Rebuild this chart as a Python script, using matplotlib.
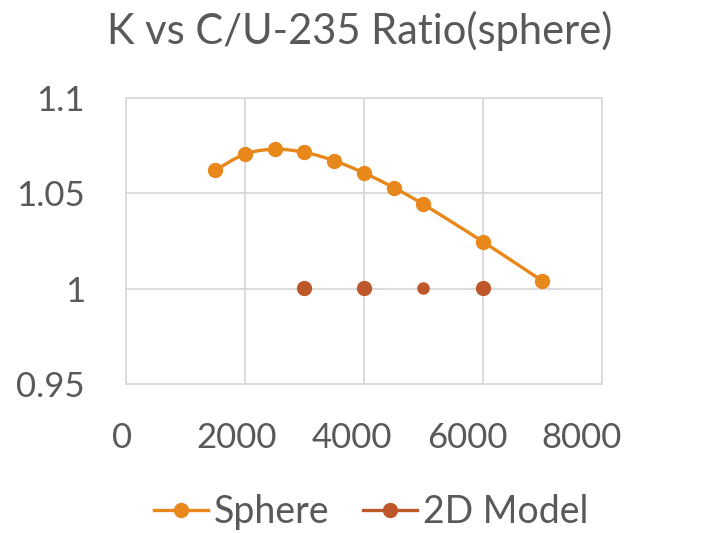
import numpy as np
import matplotlib
matplotlib.use("Agg")
import matplotlib.pyplot as plt
from matplotlib.transforms import ScaledTranslation

# ---- data ----
title = "K vs C/U-235 Ratio(sphere)"
sphere_x = [1500, 2000, 2500, 3000, 3500, 4000, 4500, 5000, 6000, 7000]
sphere_y = [1.0621, 1.0706, 1.0731, 1.0715, 1.0671, 1.0607, 1.0530, 1.0442, 1.0246, 1.0040]
model_x = [3000, 4000, 5000, 6000]
model_y = [1.0003, 1.0003, 1.0003, 1.0003]
x_ticks = [0, 2000, 4000, 6000, 8000]
y_ticks = [0.95, 1.0, 1.05, 1.1]
y_tick_labels = ["0.95", "1", "1.05", "1.1"]
series_names = ["Sphere", "2D Model"]

SPHERE_C = "#E8871A"
MODEL_C = "#BE582B"
TEXT_C = "#595959"
GRID_C = "#D9D9D9"

plt.rcParams['font.family'] = ['Lato', 'DejaVu Sans']

def smooth(xs, ys, n=30):
    P = np.column_stack([xs, ys]).astype(float)
    out = []
    for i in range(len(P) - 1):
        p0 = P[i - 1] if i > 0 else P[i]
        p1 = P[i]
        p2 = P[i + 1]
        p3 = P[i + 2] if i + 2 < len(P) else P[i + 1]
        c1 = p1 + (p2 - p0) / 6.0
        c2 = p2 - (p3 - p1) / 6.0
        t = np.linspace(0, 1, n)[:, None]
        seg = ((1 - t) ** 3) * p1 + 3 * ((1 - t) ** 2) * t * c1 + 3 * (1 - t) * t ** 2 * c2 + t ** 3 * p2
        out.append(seg if i == 0 else seg[1:])
    S = np.vstack(out)
    return S[:, 0], S[:, 1]

fig = plt.figure(figsize=(7.2, 5.33), dpi=100)
ax = fig.add_axes([126 / 720, 1 - 384 / 533, (602 - 126) / 720, (384 - 98) / 533])

sx, sy = smooth(sphere_x, sphere_y)
ax.plot(sx, sy, color=SPHERE_C, lw=2.4, zorder=3, solid_capstyle='round')
ax.plot(sphere_x, sphere_y, 'o', color=SPHERE_C, ms=10, zorder=4)
sizes = [10, 10, 8, 10]
for xv, yv, s in zip(model_x, model_y, sizes):
    ax.plot([xv], [yv], 'o', color=MODEL_C, ms=s, zorder=4)

ax.set_xlim(0, 8000)
ax.set_ylim(0.95, 1.1)
ax.set_xticks(x_ticks)
ax.set_xticklabels([str(v) for v in x_ticks])
ax.set_yticks(y_ticks)
ax.set_yticklabels(y_tick_labels)
ax.grid(True, color=GRID_C, lw=1.3)
ax.set_axisbelow(True)
for sp in ax.spines.values():
    sp.set_color(GRID_C)
    sp.set_linewidth(1.3)
ax.tick_params(length=0, labelsize=25, labelcolor=TEXT_C)
ax.tick_params(axis='y', pad=29.5)
ax.tick_params(axis='x', pad=27)
for v, lab in zip(x_ticks, ax.get_xticklabels()):
    dx = -(4 + v / 8000 * 16) / 100.0
    lab.set_transform(lab.get_transform() + ScaledTranslation(dx, 0, fig.dpi_scale_trans))

fig.text(0.5, 1 - 31 / 533, title, ha='center', va='center', fontsize=30, color=TEXT_C)

h1, = ax.plot([], [], '-o', color=SPHERE_C, lw=2.4, ms=10)
h2, = ax.plot([], [], '-o', color=MODEL_C, lw=2.4, ms=10)
leg = fig.legend([h1, h2], series_names, loc='center', bbox_to_anchor=(371 / 720, 1 - 512 / 533),
                 ncol=2, frameon=False, fontsize=27, handlelength=1.45, handletextpad=0.15,
                 columnspacing=0.9, borderpad=0, borderaxespad=0)
for t in leg.get_texts():
    t.set_color(TEXT_C)

fig.savefig("out.png", dpi=100)
